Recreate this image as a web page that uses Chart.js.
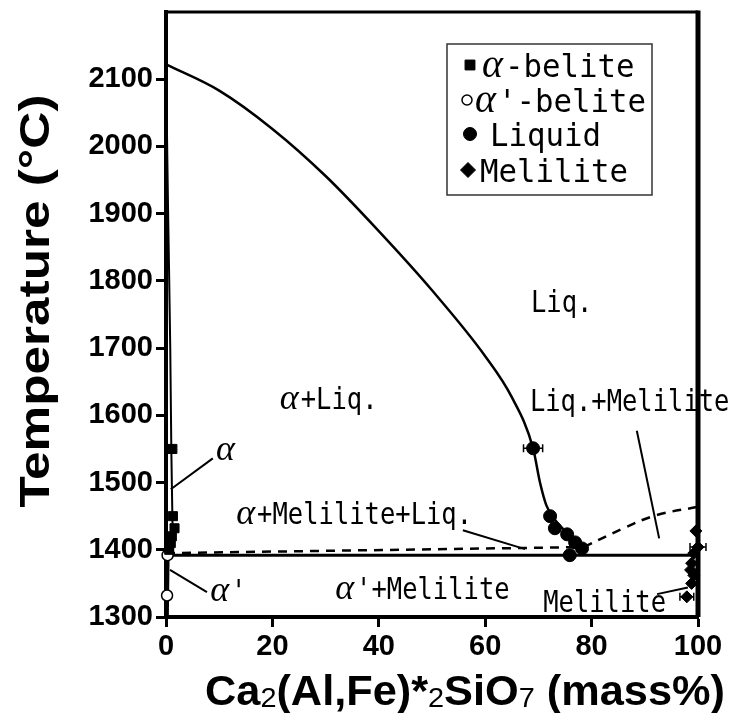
<!DOCTYPE html>
<html>
<head>
<meta charset="utf-8">
<script src="https://cdn.jsdelivr.net/npm/chart.js@4.4.0/dist/chart.umd.min.js"></script>
<style>
  html, body { margin: 0; padding: 0; background: #fff; }
</style>
</head>
<body>
<canvas id="phaseChart" width="735" height="713"></canvas>
<script>
// measured phases: [mass% Ca2(Al,Fe)2SiO7, temperature °C]
const alphaBelite = [[1.2, 1550], [1.3, 1450], [1.6, 1432], [1.1, 1420], [0.9, 1410], [0.6, 1400]];
const alphaPrimeBelite = [[0.3, 1392], [0.2, 1332]];
const liquid = [[69.0, 1551], [72.2, 1450], [73.1, 1432], [75.4, 1423], [76.9, 1411], [78.2, 1402], [75.9, 1392]];
const melilite = [[99.6, 1428], [100, 1404], [99.2, 1395], [98.8, 1380], [98.6, 1370], [99.2, 1362], [98.8, 1350], [97.9, 1330]];

// horizontal error (mass%) for each point, 0 = none
const liquidErr = [1.8, 0, 0, 0, 0, 0, 0];
const meliliteErr = [0, 1.5, 0, 0, 0, 0, 0, 1.3];

// phase boundaries
const liquidus = [[0, 2122], [10, 2083], [20, 2026], [30, 1956], [40, 1874], [50, 1786], [60, 1688],
  [65, 1627], [69, 1551], [70.3, 1500], [71.5, 1466], [73, 1446], [75, 1428], [77, 1412], [78.5, 1402]];
const alphaSolvus = [[0, 2122], [0.4, 1900], [0.8, 1700], [1.0, 1550], [1.2, 1450], [1.3, 1393]];
const alphaPrimeSolvus = [[0.4, 1393], [0.25, 1300]];
const eutectic = [[0, 1392], [100, 1392]];
const meliliteLow = [[0, 1395], [78.5, 1404]];
const meliliteHigh = [[78.5, 1404], [86, 1432], [92, 1451], [100, 1464]];

// leader lines from region labels
const leaders = [
  [[0.9, 1490], [8.8, 1536]],
  [[0.75, 1370], [7.7, 1337]],
  [[55.8, 1429], [67.5, 1401]],
  [[88.5, 1577], [92.7, 1417]],
  [[92.3, 1334], [98.1, 1344]]
];

// region labels (left edge, baseline)
const regionText = ['Liq.', 'α+Liq.', 'α', 'Liq.+Melilite', 'α+Melilite+Liq.', "α'+Melilite", 'Melilite', "α'"];
const regionX = [68.6, 21.4, 9.4, 68.4, 13.2, 31.8, 70.9, 8.3];
const regionY = [1754, 1609, 1533, 1606, 1438, 1327, 1307, 1324];

const legendText = ['α-belite', "α'-belite", 'Liquid', 'Melilite'];

const toXY = arr => arr.map(p => ({ x: p[0], y: p[1] }));

function lineSet(points, opts) {
  return Object.assign({
    data: toXY(points),
    showLine: true,
    pointRadius: 0,
    borderColor: '#000',
    backgroundColor: '#000',
    borderWidth: 2.5,
    tension: 0,
    order: 2,
    clip: false
  }, opts || {});
}

const MONO = '"DejaVu Sans Mono", monospace';

// α in a serif italic, the rest in a tall narrow monospace
function drawRuns(ctx, str, x, y, monoSize, monoSx, alphaSize) {
  let cx = x;
  str.split(/(α)/).filter(p => p).forEach(p => {
    ctx.save();
    ctx.translate(cx, y);
    if (p === 'α') {
      ctx.font = 'italic ' + alphaSize + 'px "Liberation Serif", serif';
      ctx.fillText(p, 0, 0);
      cx += ctx.measureText(p).width + 2;
    } else {
      ctx.font = monoSize + 'px ' + MONO;
      ctx.scale(monoSx, 1);
      ctx.fillText(p, 0, 0);
      cx += ctx.measureText(p).width * monoSx;
    }
    ctx.restore();
  });
}

const errorBars = {
  id: 'errorBars',
  beforeDatasetsDraw(chart) {
    const { ctx, scales: { x, y } } = chart;
    ctx.save();
    ctx.strokeStyle = '#000';
    ctx.lineWidth = 1.5;
    const bars = (pts, err) => pts.forEach((p, i) => {
      if (!err[i]) return;
      const x0 = x.getPixelForValue(p[0] - err[i]);
      const x1 = x.getPixelForValue(p[0] + err[i]);
      const py = y.getPixelForValue(p[1]);
      ctx.beginPath();
      ctx.moveTo(x0, py); ctx.lineTo(x1, py);
      ctx.moveTo(x0, py - 4); ctx.lineTo(x0, py + 4);
      ctx.moveTo(x1, py - 4); ctx.lineTo(x1, py + 4);
      ctx.stroke();
    });
    bars(liquid, liquidErr);
    bars(melilite, meliliteErr);
    ctx.restore();
  }
};

const decorations = {
  id: 'decorations',
  afterDraw(chart) {
    const { ctx, chartArea: a, scales: { x, y } } = chart;
    ctx.save();
    ctx.fillStyle = '#000';
    ctx.strokeStyle = '#000';

    // top and right frame
    ctx.lineWidth = 3;
    ctx.beginPath();
    ctx.moveTo(a.left, a.top); ctx.lineTo(a.right, a.top);
    ctx.stroke();
    ctx.lineWidth = 5;
    ctx.beginPath();
    ctx.moveTo(a.right, a.top - 1.5); ctx.lineTo(a.right, a.bottom);
    ctx.stroke();

    // region labels
    ctx.textBaseline = 'alphabetic';
    ctx.textAlign = 'left';
    regionText.forEach((t, i) => {
      drawRuns(ctx, t, x.getPixelForValue(regionX[i]), y.getPixelForValue(regionY[i]), 30, 0.85, 36);
    });

    // legend box
    const lx = a.right - 251, ly = a.top + 32;
    ctx.lineWidth = 1.5;
    ctx.strokeStyle = '#333';
    ctx.strokeRect(lx, ly, 205, 151);
    const styles = [
      { pointStyle: 'rect', radius: 7, borderWidth: 1, fill: '#000' },
      { pointStyle: 'circle', radius: 5, borderWidth: 1.5, fill: '#fff' },
      { pointStyle: 'circle', radius: 6.5, borderWidth: 1, fill: '#000' },
      { pointStyle: 'rectRot', radius: 7.5, borderWidth: 1, fill: '#000' }
    ];
    const markX = [23, 20, 23, 21];
    const rowY = [21, 56, 90, 126];
    const textX = [35, 28, 43, 33];
    legendText.forEach((t, i) => {
      ctx.fillStyle = styles[i].fill;
      ctx.strokeStyle = '#000';
      ctx.lineWidth = styles[i].borderWidth;
      Chart.helpers.drawPoint(ctx, styles[i], lx + markX[i], ly + rowY[i]);
      ctx.fillStyle = '#000';
      drawRuns(ctx, t, lx + textX[i], ly + rowY[i] + 12, 32, 0.96, 40);
    });

    // axis titles
    ctx.save();
    ctx.translate(37, 301);
    ctx.rotate(-Math.PI / 2);
    ctx.font = 'bold 42px "Liberation Sans", Arial, sans-serif';
    ctx.textAlign = 'center';
    ctx.textBaseline = 'middle';
    const yt = 'Temperature (°C)';
    const ys = 413 / ctx.measureText(yt).width;
    ctx.scale(ys, 1);
    ctx.fillText(yt, 0, 0);
    ctx.restore();

    const runs = [['Ca', 0], ['2', 1], ['(Al,Fe)*', 0], ['2', 1], ['SiO', 0], ['7', 1], [' (mass%)', 0]];
    const bigFont = 'bold 42px "Liberation Sans", Arial, sans-serif';
    const subFont = '28px "Liberation Sans", Arial, sans-serif';
    let total = 0;
    runs.forEach(r => { ctx.font = r[1] ? subFont : bigFont; total += ctx.measureText(r[0]).width; });
    const xs = 520 / total;
    ctx.save();
    ctx.translate(205, 705);
    ctx.scale(xs, 1);
    ctx.textAlign = 'left';
    ctx.textBaseline = 'alphabetic';
    let cx = 0;
    runs.forEach(r => {
      ctx.font = r[1] ? subFont : bigFont;
      ctx.fillText(r[0], cx, r[1] ? 2 : 0);
      cx += ctx.measureText(r[0]).width;
    });
    ctx.restore();
    ctx.restore();
  }
};

const tickFont = { family: '"Liberation Sans", Arial, sans-serif', size: 29, weight: 'bold' };

const datasets = [
  { label: 'α-belite', data: toXY(alphaBelite), pointStyle: 'rect', pointRadius: 6.4, backgroundColor: '#000', borderColor: '#000', borderWidth: 1, order: 0, clip: false },
  { label: "α'-belite", data: toXY(alphaPrimeBelite), pointStyle: 'circle', pointRadius: 5.5, backgroundColor: '#fff', borderColor: '#000', borderWidth: 1.5, order: 0, clip: false },
  { label: 'Liquid', data: toXY(liquid), pointStyle: 'circle', pointRadius: 6.5, backgroundColor: '#000', borderColor: '#000', borderWidth: 1, order: 0, clip: false },
  { label: 'Melilite', data: toXY(melilite), pointStyle: 'rectRot', pointRadius: 6, backgroundColor: '#000', borderColor: '#000', borderWidth: 1, order: 0, clip: false },
  lineSet(liquidus, { cubicInterpolationMode: 'monotone' }),
  lineSet(alphaSolvus, { borderWidth: 2, cubicInterpolationMode: 'monotone' }),
  lineSet(alphaPrimeSolvus, { borderWidth: 3 }),
  lineSet(eutectic, { borderWidth: 3 }),
  lineSet(meliliteLow, { borderDash: [9, 7] }),
  lineSet(meliliteHigh, { borderDash: [9, 7], tension: 0.4 })
].concat(leaders.map(l => lineSet(l, { borderWidth: 2 })));

new Chart(document.getElementById('phaseChart'), {
  type: 'scatter',
  data: { datasets: datasets },
  options: {
    responsive: false,
    animation: false,
    events: [],
    layout: { padding: { top: 12, right: 37, left: 0, bottom: 0 } },
    plugins: { legend: { display: false }, tooltip: { enabled: false } },
    scales: {
      x: {
        type: 'linear', min: 0, max: 100,
        afterFit: s => { s.height = 96; s.paddingLeft = 0; s.paddingRight = 0; },
        ticks: { stepSize: 20, color: '#000', font: tickFont, padding: 3, callback: v => String(v) },
        grid: { drawOnChartArea: false, tickLength: 10, tickWidth: 3, tickColor: '#000' },
        border: { width: 4, color: '#000' }
      },
      y: {
        type: 'linear', min: 1300, max: 2200,
        afterFit: s => { s.width = 166; s.paddingTop = 0; s.paddingBottom = 0; },
        ticks: { stepSize: 100, color: '#000', font: tickFont, padding: 3, callback: v => (v === 2200 ? null : String(v)) },
        grid: { drawOnChartArea: false, tickLength: 10, tickWidth: 3, tickColor: '#000' },
        border: { width: 4, color: '#000' }
      }
    }
  },
  plugins: [errorBars, decorations]
});
</script>
</body>
</html>
